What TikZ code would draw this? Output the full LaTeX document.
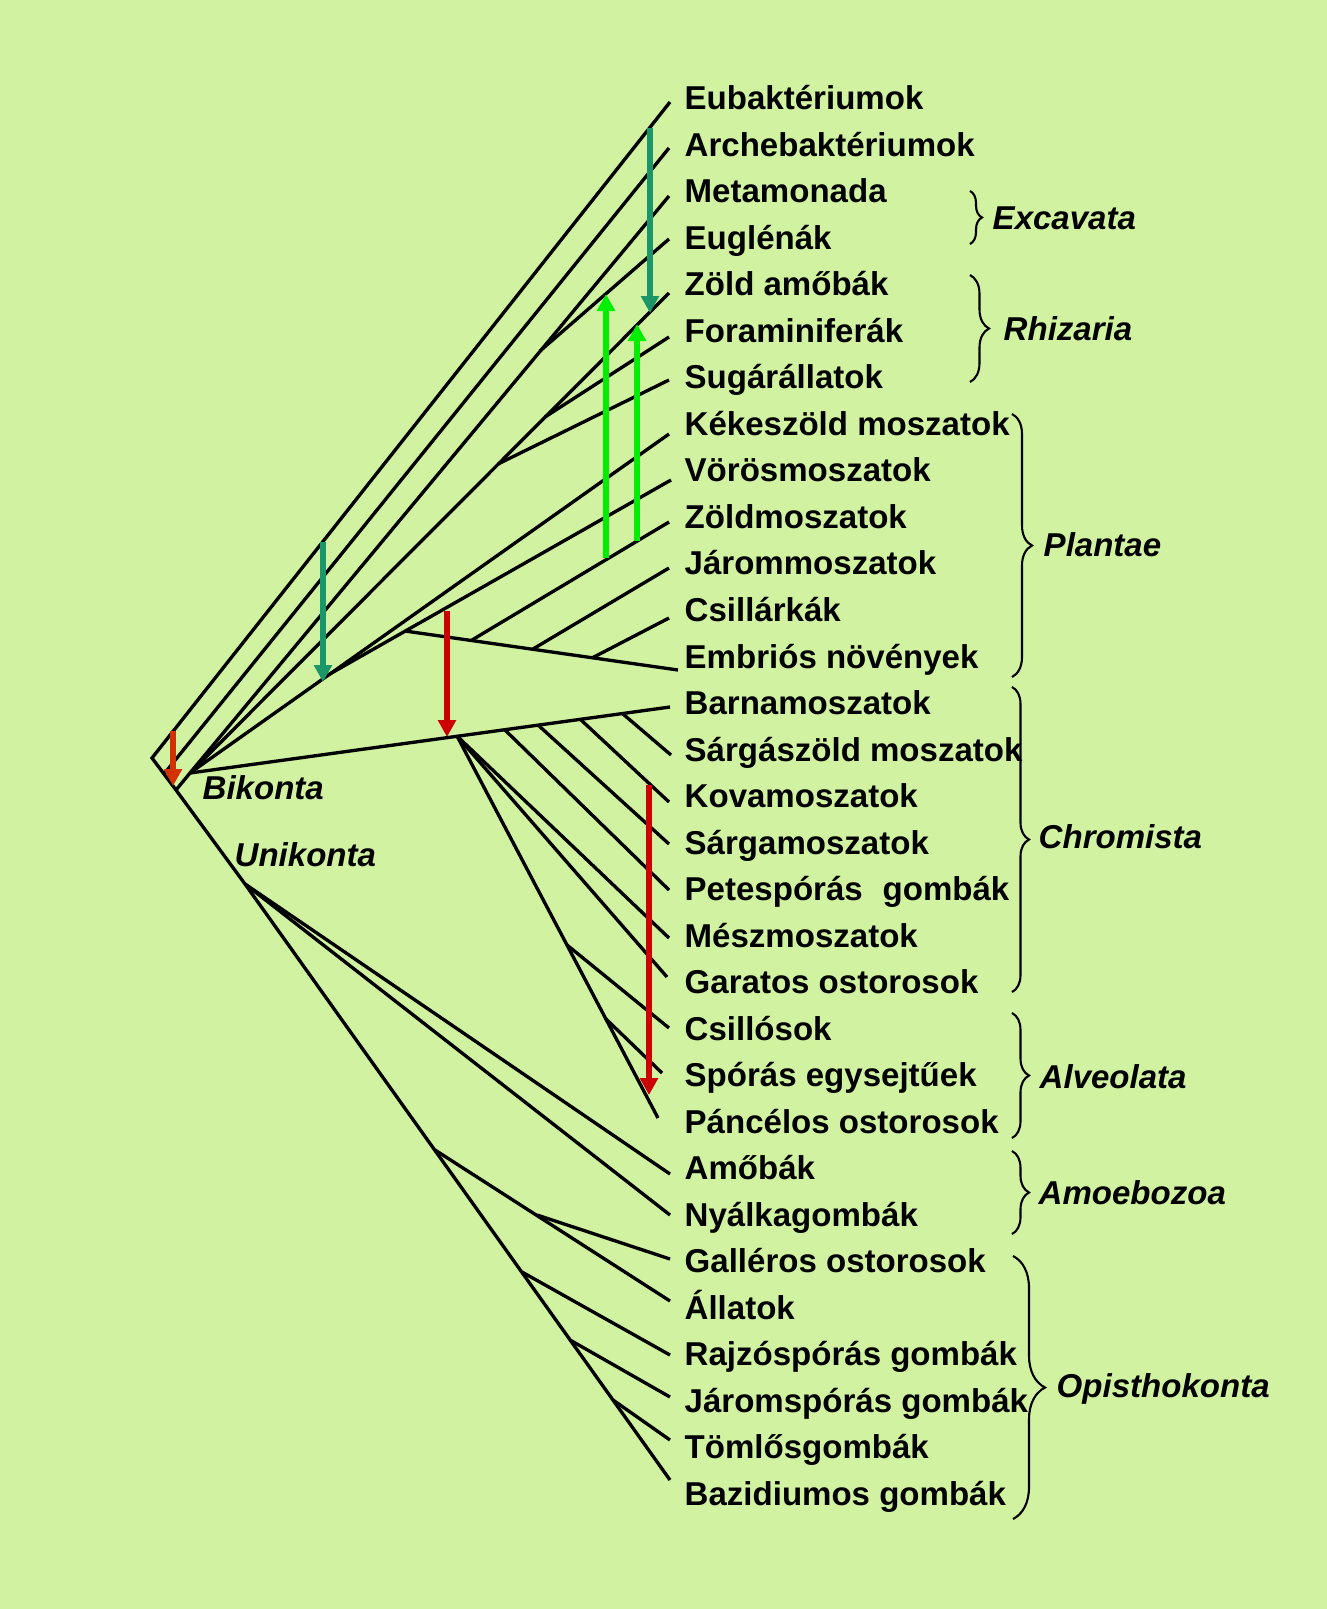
\documentclass[tikz,border=0pt]{standalone}
\usepackage{fontspec}
\setmainfont{Liberation Sans}
\usetikzlibrary{arrows.meta, decorations.pathreplacing}

\definecolor{bgcol}{RGB}{209,242,161}
\definecolor{tealarr}{RGB}{26,150,104}
\definecolor{greenarr}{RGB}{0,238,0}
\definecolor{redarr}{RGB}{204,0,0}
\definecolor{orangearr}{RGB}{210,50,0}

\begin{document}
\begin{tikzpicture}[x=0.1mm, y=-0.1mm, line join=miter,
    branch/.style={line width=0.95pt, black},
    lab/.style={anchor=base west, inner sep=0pt, font=\fontsize{9.4}{11}\selectfont\bfseries},
    grp/.style={anchor=base west, inner sep=0pt, font=\fontsize{9.4}{11}\selectfont\bfseries\itshape},
    brc/.style={decorate, decoration={brace, amplitude=#1}, line width=0.6pt},
    evo/.style={line width=0.6mm, draw=#1, -{Triangle[length=1.7mm, width=1.75mm]}}]

    % Background
    \fill[bgcol] (0,0) rectangle (1327,1609);
    \useasboundingbox (0,0) rectangle (1327,1609);

    % Node definitions: inner nodes of the tree
    \coordinate (root) at (152,758);
    \coordinate (arch) at (164,774);
    \coordinate (bik) at (176,790);
    \coordinate (fan) at (190,773);
    \coordinate (uni) at (245,884);
    \coordinate (eugl) at (540,351);
    \coordinate (rhizA) at (498,464);
    \coordinate (rhizB) at (545,417);
    \coordinate (plantA) at (328,675);
    \coordinate (plantB) at (405,631);
    \coordinate (zold) at (472,640);
    \coordinate (jaro) at (533,649);
    \coordinate (csil) at (592,658);
    \coordinate (chrom) at (457,736);
    \coordinate (pete) at (505,730);
    \coordinate (sgm) at (538,725);
    \coordinate (kova) at (580,719);
    \coordinate (sgz) at (623,714);
    \coordinate (alvA) at (567,945);
    \coordinate (alvB) at (605,1018);
    \coordinate (opiA) at (435,1150);
    \coordinate (opiB) at (537,1215);
    \coordinate (opiC) at (522,1272);
    \coordinate (opiD) at (570,1340);
    \coordinate (opiE) at (613,1400);

    % Node definitions: ends of the leaves
    \coordinate (t-eub) at (670,102);
    \coordinate (t-arch) at (669,148);
    \coordinate (t-meta) at (669,196);
    \coordinate (t-eugl) at (669,239);
    \coordinate (t-zamo) at (669,293);
    \coordinate (t-fora) at (669,337);
    \coordinate (t-suga) at (669,380);
    \coordinate (t-keke) at (669,434);
    \coordinate (t-voro) at (671,480);
    \coordinate (t-zold) at (669,522);
    \coordinate (t-jaro) at (669,568);
    \coordinate (t-csil) at (669,618);
    \coordinate (t-embr) at (678,670);
    \coordinate (t-barn) at (670,707);
    \coordinate (t-sgz) at (671,755);
    \coordinate (t-kova) at (669,802);
    \coordinate (t-sgm) at (669,844);
    \coordinate (t-pete) at (669,890);
    \coordinate (t-mesz) at (669,938);
    \coordinate (t-gara) at (667,977);
    \coordinate (t-csio) at (669,1028);
    \coordinate (t-spor) at (662,1073);
    \coordinate (t-panc) at (658,1118);
    \coordinate (t-amo) at (670,1174);
    \coordinate (t-nyal) at (670,1215);
    \coordinate (t-gall) at (670,1259);
    \coordinate (t-all) at (670,1301);
    \coordinate (t-rajz) at (670,1355);
    \coordinate (t-jsp) at (670,1397);
    \coordinate (t-toml) at (670,1440);
    \coordinate (t-baz) at (670,1480);

    % Leaf labels
    \node (eubakt) at (684,109) [lab] {Eubaktériumok};
    \node (archebakt) at (684,156) [lab] {Archebaktériumok};
    \node (metamonada) at (684,202) [lab] {Metamonada};
    \node (euglenak) at (684,249) [lab] {Euglénák};
    \node (zoldamoba) at (684,295) [lab] {Zöld amőbák};
    \node (foramin) at (684,342) [lab] {Foraminiferák};
    \node (sugar) at (684,388) [lab] {Sugárállatok};
    \node (kekeszold) at (684,435) [lab] {Kékeszöld moszatok};
    \node (vorosmosz) at (684,481) [lab] {Vörösmoszatok};
    \node (zoldmosz) at (684,528) [lab] {Zöldmoszatok};
    \node (jarommosz) at (684,574) [lab] {Járommoszatok};
    \node (csillarka) at (684,621) [lab] {Csillárkák};
    \node (embrios) at (684,668) [lab] {Embriós növények};
    \node (barnamosz) at (684,714) [lab] {Barnamoszatok};
    \node (sargaszold) at (684,761) [lab] {Sárgászöld moszatok};
    \node (kovamosz) at (684,807) [lab] {Kovamoszatok};
    \node (sargamosz) at (684,854) [lab] {Sárgamoszatok};
    \node (petespor) at (684,900) [lab] {Petespórás\hspace{0.6em}gombák};
    \node (meszmosz) at (684,947) [lab] {Mészmoszatok};
    \node (garatos) at (684,993) [lab] {Garatos ostorosok};
    \node (csillosok) at (684,1040) [lab] {Csillósok};
    \node (sporas) at (684,1086) [lab] {Spórás egysejtűek};
    \node (pancelos) at (684,1133) [lab] {Páncélos ostorosok};
    \node (amobak) at (684,1179) [lab] {Amőbák};
    \node (nyalka) at (684,1226) [lab] {Nyálkagombák};
    \node (galleros) at (684,1272) [lab] {Galléros ostorosok};
    \node (allatok) at (684,1319) [lab] {Állatok};
    \node (rajzospor) at (684,1365) [lab] {Rajzóspórás gombák};
    \node (jaromspor) at (684,1412) [lab] {Járomspórás gombák};
    \node (tomlos) at (684,1458) [lab] {Tömlősgombák};
    \node (bazidium) at (684,1505) [lab] {Bazidiumos gombák};

    % Group labels
    \node (bikonta) at (202,799) [grp] {Bikonta};
    \node (unikonta) at (234,866) [grp] {Unikonta};
    \node (excavata) at (992,229) [grp] {Excavata};
    \node (rhizaria) at (1003,340) [grp] {Rhizaria};
    \node (plantae) at (1043,556) [grp] {Plantae};
    \node (chromista) at (1038,848) [grp] {Chromista};
    \node (alveolata) at (1039,1088) [grp] {Alveolata};
    \node (amoebozoa) at (1038,1204) [grp] {Amoebozoa};
    \node (opistho) at (1056,1397) [grp] {Opisthokonta};

    % Edge definitions
    \draw[branch] (t-eub) -- (root) -- (bik) -- (uni) -- (t-baz);
    \draw[branch] (arch) -- (t-arch);
    \draw[branch] (bik) -- (fan) -- (t-meta);
    \draw[branch] (eugl) -- (t-eugl);
    \draw[branch] (fan) -- (t-zamo);
    \draw[branch] (rhizB) -- (t-fora);
    \draw[branch] (rhizA) -- (t-suga);
    \draw[branch] (fan) -- (t-keke);
    \draw[branch] (plantA) -- (t-voro);
    \draw[branch] (plantB) -- (t-embr);
    \draw[branch] (zold) -- (t-zold);
    \draw[branch] (jaro) -- (t-jaro);
    \draw[branch] (csil) -- (t-csil);
    \draw[branch] (fan) -- (t-barn);
    \draw[branch] (sgz) -- (t-sgz);
    \draw[branch] (kova) -- (t-kova);
    \draw[branch] (sgm) -- (t-sgm);
    \draw[branch] (pete) -- (t-pete);
    \draw[branch] (chrom) -- (t-mesz);
    \draw[branch] (chrom) -- (t-gara);
    \draw[branch] (chrom) -- (t-panc);
    \draw[branch] (alvA) -- (t-csio);
    \draw[branch] (alvB) -- (t-spor);
    \draw[branch] (uni) -- (t-amo);
    \draw[branch] (uni) -- (t-nyal);
    \draw[branch] (opiA) -- (t-all);
    \draw[branch] (opiB) -- (t-gall);
    \draw[branch] (opiC) -- (t-rajz);
    \draw[branch] (opiD) -- (t-jsp);
    \draw[branch] (opiE) -- (t-toml);

    % Braces of the groups
    \draw[brc=1.2mm] (970,191) -- (970,244);
    \draw[brc=1.9mm] (970,275) -- (970,382);
    \draw[brc=2mm] (1012,414) -- (1012,677);
    \draw[brc=1.7mm] (1012,687) -- (1012,992);
    \draw[brc=1.7mm] (1012,1013) -- (1012,1138);
    \draw[brc=1.7mm] (1012,1151) -- (1012,1234);
    \draw[brc=3.2mm] (1013,1256) -- (1013,1519);

    % Endosymbiosis arrows
    \coordinate (os1) at (173,731);
    \coordinate (os2) at (173,786);
    \coordinate (ta1) at (323,542);
    \coordinate (ta2) at (323,682);
    \coordinate (tb1) at (650,128);
    \coordinate (tb2) at (650,313);
    \coordinate (ga1) at (606,558);
    \coordinate (ga2) at (606,294);
    \coordinate (gb1) at (637,541);
    \coordinate (gb2) at (637,324);
    \coordinate (ra1) at (447,611);
    \coordinate (ra2) at (447,737);
    \coordinate (rb1) at (649,785);
    \coordinate (rb2) at (649,1095);
    \draw[evo=orangearr] (os1) -- (os2);
    \draw[evo=tealarr] (ta1) -- (ta2);
    \draw[evo=tealarr] (tb1) -- (tb2);
    \draw[evo=greenarr] (ga1) -- (ga2);
    \draw[evo=greenarr] (gb1) -- (gb2);
    \draw[evo=redarr] (ra1) -- (ra2);
    \draw[evo=redarr] (rb1) -- (rb2);
\end{tikzpicture}
\end{document}
